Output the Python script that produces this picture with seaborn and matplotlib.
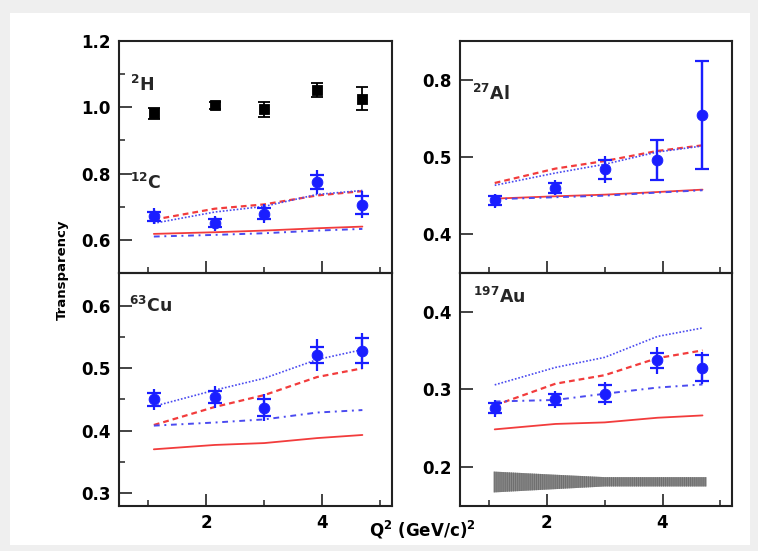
import numpy as np
import matplotlib
matplotlib.use("Agg")
import matplotlib.pyplot as plt
import seaborn as sns
from matplotlib.patches import Rectangle
from matplotlib.ticker import FixedLocator, FormatStrFormatter, NullFormatter

# Kinematic settings, Q^2 in (GeV/c)^2
q2 = [1.10, 2.15, 3.00, 3.91, 4.69]

# Deuterium transparency
h2_T = [0.982, 1.006, 0.994, 1.052, 1.026]
h2_err = [0.016, 0.011, 0.022, 0.021, 0.034]

# Carbon
c_T = [0.671, 0.650, 0.679, 0.774, 0.706]
c_err_tot = [0.024, 0.022, 0.028, 0.037, 0.041]
c_err_stat = [0.013, 0.012, 0.016, 0.021, 0.027]
c_glauber_a = [0.618, 0.623, 0.628, 0.635, 0.640]
c_ct_a = [0.661, 0.694, 0.707, 0.734, 0.747]
c_glauber_b = [0.610, 0.615, 0.620, 0.628, 0.633]
c_ct_b = [0.650, 0.684, 0.701, 0.737, 0.749]

# Aluminium (asymmetric errors: below / above the point)
al_T = [0.444, 0.460, 0.484, 0.496, 0.662]
al_err_tot_lo = [0.0095, 0.0096, 0.0180, 0.0261, 0.1770]
al_err_tot_hi = [0.0086, 0.0107, 0.0187, 0.0688, 0.2106]
al_err_stat_lo = [0.0060, 0.0070, 0.0120, 0.0261, 0.1770]
al_err_stat_hi = [0.0060, 0.0070, 0.0120, 0.0688, 0.2106]
al_glauber_a = [0.4462, 0.4492, 0.4513, 0.4547, 0.4578]
al_ct_a = [0.4664, 0.4850, 0.4948, 0.5234, 0.5453]
al_glauber_b = [0.4454, 0.4480, 0.4500, 0.4540, 0.4570]
al_ct_b = [0.4634, 0.4793, 0.4906, 0.5194, 0.5427]

# Copper
cu_T = [0.450, 0.454, 0.437, 0.521, 0.528]
cu_err_tot = [0.017, 0.017, 0.021, 0.026, 0.029]
cu_err_stat = [0.010, 0.010, 0.013, 0.013, 0.020]
cu_glauber_a = [0.370, 0.377, 0.380, 0.388, 0.393]
cu_ct_a = [0.409, 0.438, 0.457, 0.486, 0.500]
cu_glauber_b = [0.408, 0.413, 0.418, 0.429, 0.433]
cu_ct_b = [0.439, 0.465, 0.484, 0.514, 0.530]

# Gold
au_T = [0.2755, 0.287, 0.294, 0.337, 0.327]
au_err_tot = [0.011, 0.011, 0.015, 0.018, 0.021]
au_err_stat = [0.007, 0.007, 0.011, 0.010, 0.017]
au_glauber_a = [0.248, 0.255, 0.257, 0.263, 0.266]
au_ct_a = [0.279, 0.307, 0.318, 0.340, 0.350]
au_glauber_b = [0.284, 0.286, 0.294, 0.302, 0.306]
au_ct_b = [0.3055, 0.328, 0.341, 0.368, 0.379]

# Model-dependent systematic band for gold
band_q2 = [1.08, 2.15, 3.00, 3.91, 4.76]
band_lo = [0.1665, 0.1708, 0.1742, 0.1742, 0.1742]
band_hi = [0.1935, 0.1894, 0.1863, 0.1863, 0.1863]

BLUE = "#1a1eff"
RED = "#f23c3c"
LBLUE = "#4a4af0"

sns.set_theme(style="ticks")
plt.rcParams["font.family"] = ["DejaVu Sans"]
plt.rcParams["font.weight"] = "bold"
plt.rcParams["mathtext.fontset"] = "dejavusans"
plt.rcParams["hatch.linewidth"] = 0.6

W, H = 758, 551
fig = plt.figure(figsize=(W / 100, H / 100), dpi=100)
fig.patch.set_facecolor("#efefef")
fig.add_artist(Rectangle((10 / W, 6 / H), 740 / W, 532 / H,
                         transform=fig.transFigure, facecolor="white",
                         edgecolor="none", zorder=0))


def px_axes(x0, y0, x1, y1):
    return fig.add_axes([x0 / W, 1 - y1 / H, (x1 - x0) / W, (y1 - y0) / H])


ax_c = px_axes(119, 41, 392, 273)
ax_al = px_axes(460, 41, 732, 273)
ax_cu = px_axes(119, 273, 392, 506)
ax_au = px_axes(460, 273, 732, 506)


def draw_curves(ax, glauber_a, ct_a, glauber_b, ct_b):
    sns.lineplot(x=q2, y=glauber_a, ax=ax, color=RED, lw=1.3,
                 linestyle="-", legend=False)
    sns.lineplot(x=q2, y=ct_a, ax=ax, color=RED, lw=1.6,
                 linestyle=(0, (2.6, 1.8)), legend=False)
    sns.lineplot(x=q2, y=glauber_b, ax=ax, color=LBLUE, lw=1.4,
                 linestyle=(0, (3.0, 2.4, 1.0, 2.4)), legend=False)
    sns.lineplot(x=q2, y=ct_b, ax=ax, color=LBLUE, lw=1.2,
                 linestyle=(0, (1.0, 1.1)), legend=False)


def draw_points(ax, T, err_tot, err_stat):
    ax.errorbar(q2, T, yerr=err_tot, fmt="none", ecolor=BLUE,
                elinewidth=1.6, capsize=0, zorder=4)
    ax.errorbar(q2, T, yerr=err_stat, fmt="none", ecolor=BLUE,
                elinewidth=1.6, capsize=5, capthick=1.6, zorder=4)
    sns.scatterplot(x=q2, y=T, ax=ax, color=BLUE, edgecolor=BLUE,
                    marker="o", s=60, zorder=5, legend=False)


def style_axis(ax, ylim, major, minor, show_x):
    ax.set_xlim(0.5, 5.2)
    ax.set_ylim(*ylim)
    ax.xaxis.set_major_locator(FixedLocator([2, 4]))
    ax.xaxis.set_minor_locator(FixedLocator([1, 3, 5]))
    ax.yaxis.set_major_locator(FixedLocator(major))
    ax.yaxis.set_minor_locator(FixedLocator(minor))
    ax.yaxis.set_major_formatter(FormatStrFormatter("%.1f"))
    ax.yaxis.set_minor_formatter(NullFormatter())
    if show_x:
        ax.xaxis.set_major_formatter(FormatStrFormatter("%d"))
    else:
        ax.xaxis.set_major_formatter(NullFormatter())
    ax.xaxis.set_minor_formatter(NullFormatter())
    ax.tick_params(which="major", direction="in", length=9, width=1.2,
                   color="#222222", labelsize=12, pad=6,
                   labelcolor="black")
    ax.tick_params(which="minor", direction="in", length=4.5, width=1.1,
                   color="#222222")
    for s in ax.spines.values():
        s.set_visible(True)
        s.set_linewidth(1.5)
        s.set_color("#222222")
    ax.set_facecolor("none")
    ax.set_xlabel("")
    ax.set_ylabel("")


# Carbon / deuterium panel
draw_curves(ax_c, c_glauber_a, c_ct_a, c_glauber_b, c_ct_b)
draw_points(ax_c, c_T, c_err_tot, c_err_stat)
ax_c.errorbar(q2, h2_T, yerr=h2_err, fmt="none", ecolor="black",
              elinewidth=1.3, capsize=4, capthick=1.3, zorder=4)
sns.scatterplot(x=q2, y=h2_T, ax=ax_c, color="black", marker="s", s=58,
                edgecolor="black", zorder=5, legend=False)
style_axis(ax_c, (0.5, 1.2), [0.6, 0.8, 1.0, 1.2], [0.7, 0.9, 1.1], False)
ax_c.text(0.04, 0.81, r"$^{\mathbf{2}}$H", transform=ax_c.transAxes,
          fontsize=12.5, fontweight="bold", va="center", ha="left")
ax_c.text(0.04, 0.39, r"$^{\mathbf{12}}$C", transform=ax_c.transAxes,
          fontsize=12.5, fontweight="bold", va="center", ha="left")


# Aluminium panel: vertical axis is linear on 0.4-0.5 and compressed above 0.5
def al_forward(y):
    y = np.asarray(y, dtype=float)
    return np.where(y <= 0.5, (y - 0.4) / 0.1, 1.0 + (y - 0.5) / 0.3)


def al_inverse(t):
    t = np.asarray(t, dtype=float)
    return np.where(t <= 1.0, 0.4 + 0.1 * t, 0.5 + 0.3 * (t - 1.0))


ax_al.set_yscale("function", functions=(al_forward, al_inverse))
draw_curves(ax_al, al_glauber_a, al_ct_a, al_glauber_b, al_ct_b)
ax_al.errorbar(q2, al_T, yerr=[al_err_tot_lo, al_err_tot_hi], fmt="none",
               ecolor=BLUE, elinewidth=1.6, capsize=0, zorder=4)
ax_al.errorbar(q2, al_T, yerr=[al_err_stat_lo, al_err_stat_hi], fmt="none",
               ecolor=BLUE, elinewidth=1.6, capsize=5, capthick=1.6, zorder=4)
sns.scatterplot(x=q2, y=al_T, ax=ax_al, color=BLUE, edgecolor=BLUE,
                marker="o", s=60, zorder=5, legend=False)
style_axis(ax_al, (0.35, 0.95), [0.4, 0.5, 0.8], [], False)
ax_al.text(0.044, 0.772, r"$^{\mathbf{27}}$Al", transform=ax_al.transAxes,
           fontsize=12.5, fontweight="bold", va="center", ha="left")

# Copper panel
draw_curves(ax_cu, cu_glauber_a, cu_ct_a, cu_glauber_b, cu_ct_b)
draw_points(ax_cu, cu_T, cu_err_tot, cu_err_stat)
style_axis(ax_cu, (0.279, 0.653), [0.3, 0.4, 0.5, 0.6], [0.35, 0.45, 0.55], True)
ax_cu.text(0.037, 0.858, r"$^{\mathbf{63}}$Cu", transform=ax_cu.transAxes,
           fontsize=12.5, fontweight="bold", va="center", ha="left")

# Gold panel
ax_au.fill_between(band_q2, band_lo, band_hi, facecolor="#8a8a8a",
                   edgecolor="#6a6a6a", hatch="||||||||", linewidth=0, zorder=2)
draw_curves(ax_au, au_glauber_a, au_ct_a, au_glauber_b, au_ct_b)
draw_points(ax_au, au_T, au_err_tot, au_err_stat)
style_axis(ax_au, (0.149, 0.45), [0.2, 0.3, 0.4], [], True)
ax_au.text(0.048, 0.897, r"$^{\mathbf{197}}$Au", transform=ax_au.transAxes,
           fontsize=12.5, fontweight="bold", va="center", ha="left")

# Shared axis titles
fig.text(62 / W, 1 - 270 / H, "Transparency", rotation=90, fontsize=9.5,
         fontweight="bold", ha="center", va="center", color="black")
fig.text(422 / W, 1 - 530 / H, r"Q$^{\mathbf{2}}$ (GeV/c)$^{\mathbf{2}}$",
         fontsize=12, fontweight="bold", ha="center", va="center",
         color="black")

fig.savefig("out.png", dpi=100, facecolor=fig.get_facecolor())
